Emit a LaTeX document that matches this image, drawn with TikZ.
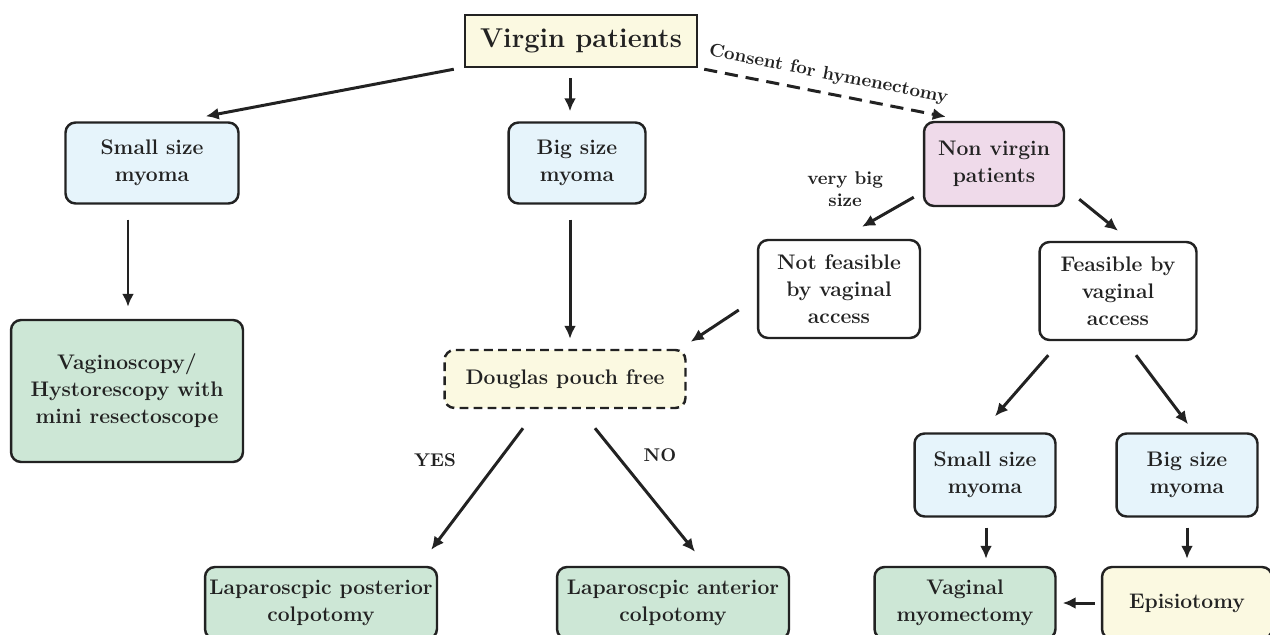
\documentclass[tikz,border=0pt]{standalone}
\usepackage{tikz}
\usetikzlibrary{arrows.meta,positioning}

\definecolor{boxyellow}{HTML}{FBF9E1}
\definecolor{boxblue}{HTML}{E6F4FB}
\definecolor{boxpink}{HTML}{EFDAEA}
\definecolor{boxgreen}{HTML}{CDE7D6}
\definecolor{inkdark}{HTML}{222222}

\tikzset{
  box/.style={draw=inkdark, line width=1.4pt, rounded corners=0.2cm, align=center,
    font=\fontsize{12}{15.3}\selectfont\bfseries, text=inkdark, inner sep=2pt},
  bluebox/.style={box, fill=boxblue},
  pinkbox/.style={box, fill=boxpink},
  greenbox/.style={box, fill=boxgreen},
  whitebox/.style={box, fill=white},
  yellowbox/.style={box, fill=boxyellow},
  arr/.style={draw=inkdark, line width=1.7pt, -{Latex[length=2.6mm,width=2.4mm]}},
  lbl/.style={font=\fontsize{10.5}{12.5}\selectfont\bfseries, text=inkdark, align=center, inner sep=2pt}
}

\begin{document}
\begin{tikzpicture}[x=0.02cm, y=-0.02cm]
    \useasboundingbox (0,0) rectangle (1270,635);
    % top
    \node(virgin) [yellowbox, rounded corners=0pt, minimum width=4.64cm, minimum height=1.04cm,
      font=\fontsize{15.5}{18}\selectfont\bfseries] at (581,41) {Virgin patients};
    \node(smallL) [bluebox, minimum width=3.46cm, minimum height=1.62cm] at (152,163) {Small size\\myoma};
    \node(bigC) [bluebox, minimum width=2.74cm, minimum height=1.62cm] at (577,163) {Big size\\myoma};
    \node(nonv) [pinkbox, minimum width=2.8cm, minimum height=1.68cm] at (994,164) {Non virgin\\patients};
    % middle
    \node(vagino) [greenbox, minimum width=4.64cm, minimum height=2.84cm] at (127,391)
      {Vaginoscopy/\\Hystorescopy with\\mini resectoscope};
    \node(notfeas) [whitebox, minimum width=3.24cm, minimum height=1.96cm] at (839,289)
      {Not feasible\\by vaginal\\access};
    \node(feas) [whitebox, minimum width=3.14cm, minimum height=1.96cm] at (1118,291)
      {Feasible by\\vaginal\\access};
    \node(douglas) [yellowbox, dashed, dash pattern=on 5pt off 3pt, minimum width=4.82cm,
      minimum height=1.16cm] at (565,379) {Douglas pouch free};
    \node(smallR) [bluebox, minimum width=2.82cm, minimum height=1.66cm] at (985,475) {Small size\\myoma};
    \node(bigR) [bluebox, minimum width=2.82cm, minimum height=1.66cm] at (1187,475) {Big size\\myoma};
    % bottom
    \node(lapP) [greenbox, minimum width=4.64cm, minimum height=1.44cm] at (321,603)
      {Laparoscpic posterior\\colpotomy};
    \node(lapA) [greenbox, minimum width=4.64cm, minimum height=1.44cm] at (673,603)
      {Laparoscpic anterior\\colpotomy};
    \node(vagmyo) [greenbox, minimum width=3.62cm, minimum height=1.44cm] at (965,603)
      {Vaginal\\myomectomy};
    \node(episio) [yellowbox, minimum width=3.4cm, minimum height=1.44cm] at (1187,603) {Episiotomy};

    % connectors
    \draw[arr] ([shift={(-10,1)}]virgin.south west) -- ([shift={(-34,-5)}]smallL.north east);
    \draw[arr] ([shift={(-11,10)}]virgin.south) -- ([shift={(-7,-10)}]bigC.north);
    \draw[arr, dash pattern=on 7.5pt off 4.5pt] ([shift={(6,1)}]virgin.south east)
      -- node[lbl, sloped, above=3pt] {Consent for hymenectomy} ([shift={(23,-4)}]nonv.north west);
    \draw[arr] ([shift={(-24,15)}]smallL.south) -- ([shift={(1,-12)}]vagino.north);
    \draw[arr] ([shift={(-7,15)}]bigC.south) -- ([shift={(5,-10)}]douglas.north);
    \draw[arr] ([shift={(-18,21)}]notfeas.west) -- ([shift={(4,-7)}]douglas.north east);
    \draw[arr] ([shift={(-9,-10)}]nonv.south west)
      -- node[lbl, above left=0pt] {very big\\size} ([shift={(23,-12)}]notfeas.north);
    \draw[arr] ([shift={(14,-8)}]nonv.south east) -- ([shift={(0,-10)}]feas.north);
    \draw[arr] ([shift={(10,14)}]feas.south west) -- ([shift={(10,-16)}]smallR.north);
    \draw[arr] ([shift={(18,14)}]feas.south) -- ([shift={(1,-8)}]bigR.north);
    \draw[arr] ([shift={(-42,19)}]douglas.south) -- ([shift={(-7,-16)}]lapP.north east);
    \draw[arr] ([shift={(30,19)}]douglas.south) -- ([shift={(22,-14)}]lapA.north);
    \draw[arr] ([shift={(1,10)}]smallR.south) -- ([shift={(21,-7)}]vagmyo.north);
    \draw[arr] ([shift={(0,10)}]bigR.south) -- ([shift={(0,-7)}]episio.north);
    \draw[arr] ([shift={(-6,0)}]episio.west) -- ([shift={(6,0)}]vagmyo.east);
    \node(yes) [lbl] at (435,460) {YES};
    \node(no) [lbl] at (660,455) {NO};
\end{tikzpicture}
\end{document}
